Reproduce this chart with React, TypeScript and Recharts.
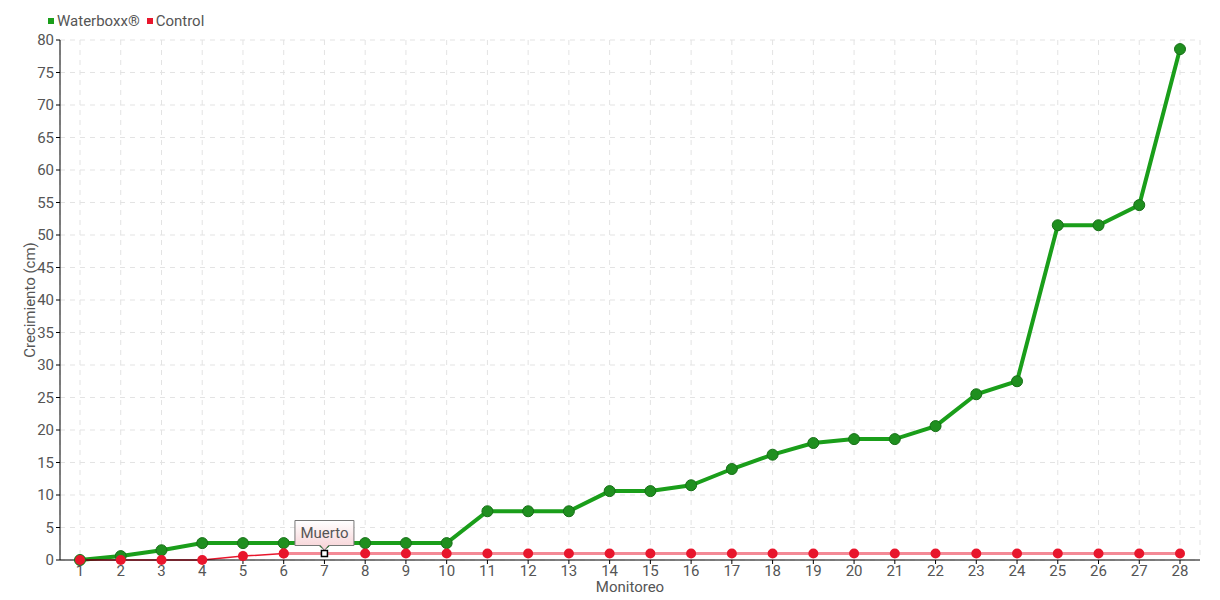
import { LineChart, Line, XAxis, YAxis, CartesianGrid, Legend } from 'recharts';

const monitoreos = ['1', '2', '3', '4', '5', '6', '7', '8', '9', '10', '11', '12', '13', '14', '15', '16', '17', '18', '19', '20', '21', '22', '23', '24', '25', '26', '27', '28'];
const waterboxx = [0, 0.6, 1.5, 2.6, 2.6, 2.6, 2.6, 2.6, 2.6, 2.6, 7.5, 7.5, 7.5, 10.6, 10.6, 11.5, 14, 16.2, 18, 18.6, 18.6, 20.6, 25.5, 27.5, 51.5, 51.5, 54.6, 78.6];
const control = [0, 0, 0, 0, 0.6, 1, 1, 1, 1, 1, 1, 1, 1, 1, 1, 1, 1, 1, 1, 1, 1, 1, 1, 1, 1, 1, 1, 1];
// control plant counted as dead from monitoreo 6 on (lighter line)
const deadFrom = '6';
const notes = [{ at: '7', text: 'Muerto' }];
const yTicks = [0, 5, 10, 15, 20, 25, 30, 35, 40, 45, 50, 55, 60, 65, 70, 75, 80];

const FONT = "Roboto, 'DejaVu Sans', sans-serif";
const TEXT = '#555';
const GREEN = '#1a9e1a';
const RED = '#e8162c';

const deadIdx = monitoreos.indexOf(deadFrom);
const data = monitoreos.map((name, i) => ({
  name,
  waterboxx: waterboxx[i],
  alive: i <= deadIdx ? control[i] : null,
  dead: i >= deadIdx ? control[i] : null,
  note: notes.find((n) => n.at === name)?.text,
}));

const NoteDot = (props: any) => {
  const { cx, cy, payload, index } = props;
  if (cx == null || cy == null) return null;
  if (!payload.note) {
    return <circle key={`d-${index}`} cx={cx} cy={cy} r={5} fill={RED} />;
  }
  const w = 59;
  const h = 25;
  const bx = cx - w / 2;
  const by = cy - 33;
  return (
    <g key={`d-${index}`}>
      <defs>
        <linearGradient id="noteGrad" x1="0" y1="0" x2="0" y2="1">
          <stop offset="0%" stopColor="#ffffff" />
          <stop offset="100%" stopColor="#f7d0d4" />
        </linearGradient>
      </defs>
      <path
        d={`M${bx},${by} h${w} v${h} h${-(w / 2 - 4)} l-4,5 l-4,-5 h${-(w / 2 - 4)} z`}
        fill="url(#noteGrad)"
        stroke="#777"
        strokeWidth={1}
      />
      <text x={cx} y={by + h / 2 + 5} textAnchor="middle" fontSize={15} fill={TEXT}>
        {payload.note}
      </text>
      <rect x={cx - 3} y={cy - 3} width={6} height={6} fill="#fff" stroke="#000" strokeWidth={1.5} />
    </g>
  );
};

const renderLegend = () => {
  const items = [
    { label: 'Waterboxx®', color: GREEN },
    { label: 'Control', color: RED },
  ];
  return (
    <div style={{ display: 'flex', gap: 7, fontSize: 15, color: TEXT }}>
      {items.map((it) => (
        <span key={it.label} style={{ display: 'flex', alignItems: 'center' }}>
          <span style={{ width: 6, height: 6, background: it.color, marginRight: 3, display: 'inline-block' }} />
          {it.label}
        </span>
      ))}
    </div>
  );
};

export default function App() {
  return (
    <div style={{ position: 'absolute', left: 0, top: 0, background: '#fff', fontFamily: FONT }}>
      <LineChart width={1220} height={600} data={data} margin={{ top: 40, right: 20, bottom: 0, left: 0 }}>
        <CartesianGrid stroke="#e3e3e3" strokeDasharray="5 5" />
        <XAxis
          dataKey="name"
          interval={0}
          padding={{ left: 20, right: 20 }}
          height={40}
          tickSize={4}
          tickMargin={1}
          axisLine={{ stroke: '#000' }}
          tickLine={{ stroke: '#000' }}
          tick={{ fill: TEXT, fontSize: 15 }}
          label={{ value: 'Monitoreo', position: 'insideBottom', offset: 8, fill: TEXT, fontSize: 15 }}
        />
        <YAxis
          domain={[0, 80]}
          ticks={yTicks}
          width={60}
          tickSize={4}
          tickMargin={2}
          axisLine={{ stroke: '#000' }}
          tickLine={{ stroke: '#000' }}
          tick={{ fill: TEXT, fontSize: 15 }}
          label={{
            value: 'Crecimiento (cm)',
            angle: -90,
            position: 'insideLeft',
            offset: 30,
            fill: TEXT,
            fontSize: 15,
            style: { textAnchor: 'middle' },
          }}
        />
        <Legend
          verticalAlign="middle"
          align="center"
          wrapperStyle={{ top: 12, left: 48, width: 'auto' }}
          content={renderLegend}
        />
        <Line
          dataKey="waterboxx"
          name="Waterboxx®"
          stroke={GREEN}
          strokeWidth={4}
          dot={{ r: 5.5, fill: '#1f8f1f', stroke: '#177017', strokeWidth: 1 }}
          isAnimationActive={false}
        />
        <Line
          dataKey="alive"
          name="Control"
          stroke={RED}
          strokeWidth={1.5}
          dot={{ r: 5, fill: RED, stroke: 'none' }}
          isAnimationActive={false}
        />
        <Line
          dataKey="dead"
          name="Control muerto"
          legendType="none"
          stroke="#f48a96"
          strokeWidth={3}
          dot={(p: any) => <NoteDot {...p} key={`nd-${p.index}`} />}
          isAnimationActive={false}
        />
      </LineChart>
    </div>
  );
}
